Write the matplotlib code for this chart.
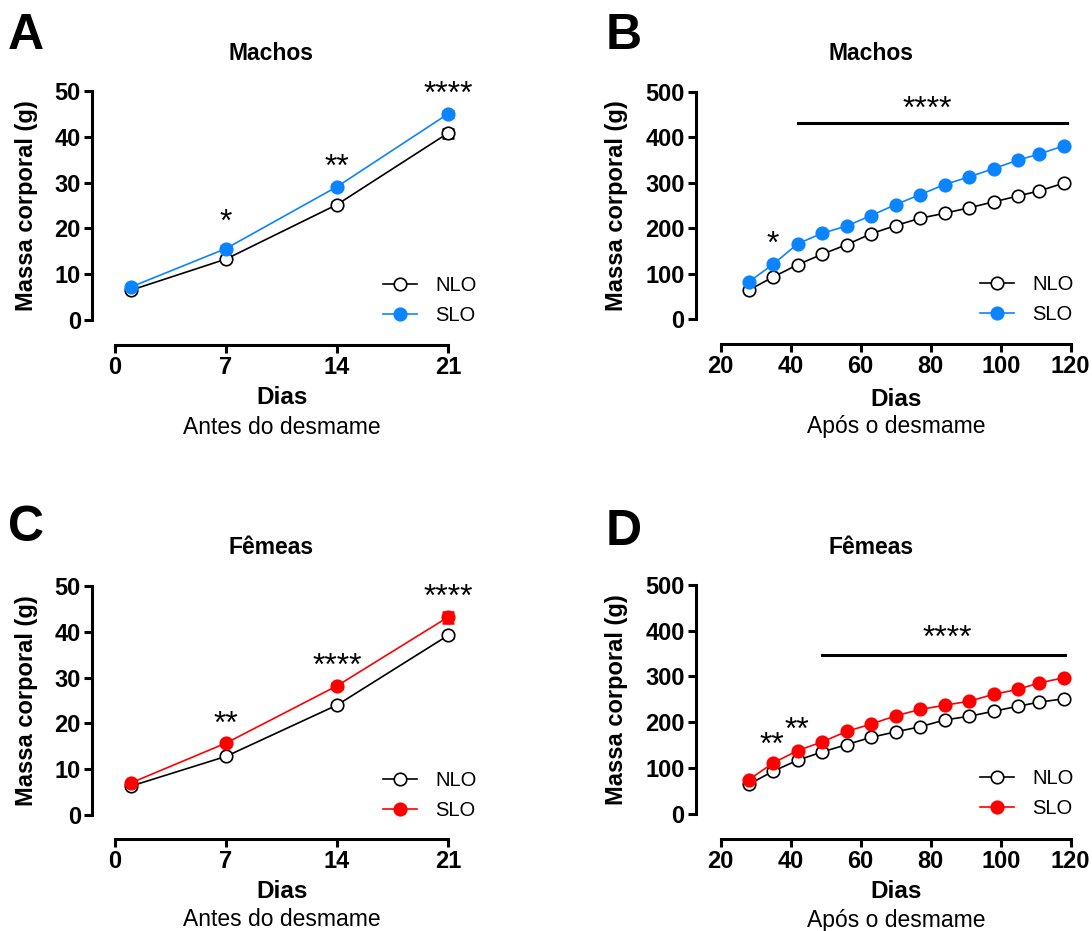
import matplotlib.pyplot as plt

plt.rcParams['font.family'] = ['Liberation Sans', 'DejaVu Sans']

# dados - antes do desmame (dias 1, 7, 14, 21)
dias_antes = [1, 7, 14, 21]
machos_nlo_antes = [6.5, 13.3, 25.2, 40.8]
machos_nlo_antes_err = [0.3, 0.4, 0.5, 1.0]
machos_slo_antes = [7.2, 15.6, 29.1, 45.0]
machos_slo_antes_err = [0.3, 0.5, 0.6, 0.6]
femeas_nlo_antes = [6.3, 12.8, 24.0, 39.2]
femeas_nlo_antes_err = [0.3, 0.4, 0.5, 0.6]
femeas_slo_antes = [7.0, 15.7, 28.2, 43.2]
femeas_slo_antes_err = [0.3, 0.5, 0.6, 1.2]

# dados - apos o desmame
dias_apos = [28, 35, 42, 49, 56, 63, 70, 77, 84, 91, 98, 105, 111, 118]
machos_nlo_apos = [64, 93, 120, 143, 164, 188, 206, 222, 233, 245, 258, 271, 282, 299]
machos_slo_apos = [82, 121, 166, 189, 205, 228, 252, 274, 296, 313, 331, 350, 363, 381]
femeas_nlo_apos = [64, 93, 117, 135, 151, 167, 179, 190, 205, 213, 224, 235, 244, 251]
femeas_slo_apos = [74, 111, 138, 157, 180, 196, 214, 228, 237, 246, 261, 272, 286, 297]

# significancia: (dia, altura, texto)
sig_a = [(7, 21.2, '*'), (14, 33.3, '**'), (21, 49.2, '****')]
sig_c = [(7, 19.6, '**'), (14, 32.3, '****'), (21, 47.4, '****')]
sig_b = [(35, 163, '*'), (79, 461, '****')]
sig_d = [(34.6, 148, '**'), (41.8, 181, '**'), (84.6, 382, '****')]
barra_b = (431, 42, 119)
barra_d = (348, 49, 118.5)

azul = '#0a84ff'
vermelho = '#ff0000'

fig = plt.figure(figsize=(10.92, 9.31), dpi=100)
W, H = 1092, 931


def eixo(x0, x1, y_top, y_bot):
    return fig.add_axes([x0 / W, 1 - y_bot / H, (x1 - x0) / W, (y_bot - y_top) / H])


def estilo(ax, xticks, yticks, xlim, ylim, out_left, out_bottom):
    ax.set_xlim(xlim)
    ax.set_ylim(ylim)
    ax.set_xticks(xticks)
    ax.set_yticks(yticks)
    for s in ['top', 'right']:
        ax.spines[s].set_visible(False)
    ax.spines['left'].set_position(('outward', out_left * 0.72))
    ax.spines['bottom'].set_position(('outward', out_bottom * 0.72))
    ax.spines['left'].set_linewidth(2.2)
    ax.spines['bottom'].set_linewidth(2.2)
    ax.tick_params(width=2.2, length=5.5, labelsize=17, pad=2.5)
    for lab in ax.get_xticklabels() + ax.get_yticklabels():
        lab.set_fontweight('bold')
    ax.set_ylabel('Massa corporal (g)', fontsize=17, fontweight='bold', labelpad=12)


def curvas(ax, x, nlo, slo, cor, anchor, nlo_err=None, slo_err=None):
    if nlo_err is not None:
        ax.errorbar(x, nlo, yerr=nlo_err, fmt='none', ecolor='black', capsize=4,
                    elinewidth=1.8, capthick=1.8, clip_on=False, zorder=2)
        ax.errorbar(x, slo, yerr=slo_err, fmt='none', ecolor=cor, capsize=4,
                    elinewidth=1.8, capthick=1.8, clip_on=False, zorder=2)
    ax.plot(x, nlo, color='black', lw=1.2, marker='o', ms=9, mfc='white',
            mec='black', mew=1.2, label='NLO', clip_on=False, zorder=3)
    ax.plot(x, slo, color=cor, lw=1.2, marker='o', ms=9, mfc=cor, mec=cor,
            mew=1.2, label='SLO', clip_on=False, zorder=4)
    ax.legend(frameon=False, fontsize=14.5, loc='lower right',
              bbox_to_anchor=anchor, handlelength=1.7, handletextpad=0.9,
              labelspacing=0.55)


def anotar(ax, sigs):
    for x, y, t in sigs:
        ax.text(x, y, t, ha='center', va='center', fontsize=23, clip_on=False)


def textos(ax, letra, titulo, sub, lx, ly, tx, ty, dx, dy, sy):
    fig.text(lx / W, 1 - ly / H, letra, fontsize=36, fontweight='bold', ha='left', va='center')
    fig.text(tx / W, 1 - ty / H, titulo, fontsize=16.5, fontweight='bold', ha='center', va='center')
    fig.text(dx / W, 1 - dy / H, 'Dias', fontsize=17.5, fontweight='bold', ha='center', va='center')
    fig.text(dx / W, 1 - sy / H, sub, fontsize=16.5, ha='center', va='center')


# A
axA = eixo(115, 448, 91, 320)
curvas(axA, dias_antes, machos_nlo_antes, machos_slo_antes, azul, (1.14, -0.1),
       machos_nlo_antes_err, machos_slo_antes_err)
estilo(axA, [0, 7, 14, 21], range(0, 51, 10), (0, 21), (0, 50), 23, 25)
anotar(axA, sig_a)
textos(axA, 'A', 'Machos', 'Antes do desmame', 8, 36, 271, 53, 282, 398, 427)

# B
axB = eixo(720.7, 1070.7, 91.7, 319.3)
curvas(axB, dias_apos, machos_nlo_apos, machos_slo_apos, azul, (1.06, -0.1))
estilo(axB, range(20, 121, 20), range(0, 501, 100), (20, 120), (0, 500), 25, 25)
anotar(axB, sig_b)
axB.plot([barra_b[1], barra_b[2]], [barra_b[0]] * 2, color='black', lw=2.2, clip_on=False)
textos(axB, 'B', 'Machos', 'Após o desmame', 606, 36, 871, 53, 896, 400, 427)

# C
axC = eixo(115, 448, 586, 815)
curvas(axC, dias_antes, femeas_nlo_antes, femeas_slo_antes, vermelho, (1.14, -0.1),
       femeas_nlo_antes_err, femeas_slo_antes_err)
estilo(axC, [0, 7, 14, 21], range(0, 51, 10), (0, 21), (0, 50), 23, 24)
anotar(axC, sig_c)
textos(axC, 'C', 'Fêmeas', 'Antes do desmame', 8, 528, 271, 547, 282, 892, 920)

# D
axD = eixo(720.7, 1070.7, 585, 813.7)
curvas(axD, dias_apos, femeas_nlo_apos, femeas_slo_apos, vermelho, (1.06, -0.1))
estilo(axD, range(20, 121, 20), range(0, 501, 100), (20, 120), (0, 500), 25, 25)
anotar(axD, sig_d)
axD.plot([barra_d[1], barra_d[2]], [barra_d[0]] * 2, color='black', lw=2.2, clip_on=False)
textos(axD, 'D', 'Fêmeas', 'Após o desmame', 606, 532, 871, 547, 896, 892, 920)

plt.savefig('out.png', dpi=100)
